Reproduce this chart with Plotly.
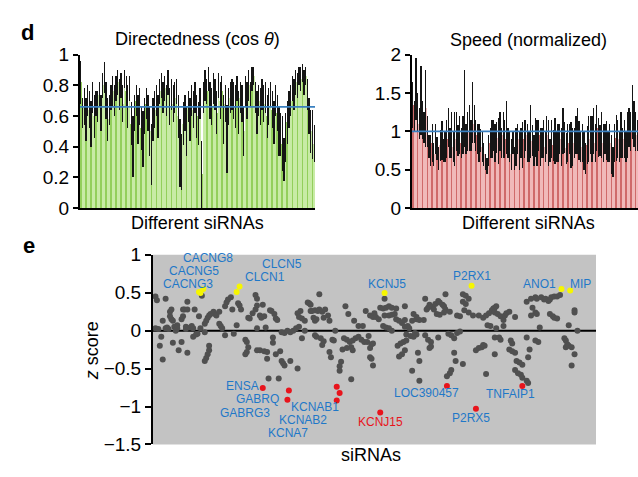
import plotly.graph_objects as go

# ---------------- panel d : per-siRNA bars ----------------
dir_mean = [
    0.82, 0.62, 0.66, 0.58, 0.70, 0.64, 0.55, 0.72, 0.60, 0.68,
    0.66, 0.74, 0.62, 0.80, 0.85, 0.70, 0.58, 0.64, 0.72, 0.76,
    0.70, 0.78, 0.82, 0.74, 0.80, 0.68, 0.84, 0.76, 0.66, 0.78,
    0.55, 0.40, 0.62, 0.70, 0.58, 0.66, 0.52, 0.45, 0.60, 0.68,
    0.62, 0.50, 0.35, 0.58, 0.64, 0.70, 0.60, 0.76, 0.80, 0.72,
    0.78, 0.70, 0.82, 0.66, 0.74, 0.68, 0.72, 0.76, 0.60, 0.36,
    0.30, 0.55, 0.62, 0.50, 0.66, 0.58, 0.70, 0.64, 0.72, 0.60,
    0.55, 0.68, 0.22, 0.72, 0.80, 0.76, 0.84, 0.70, 0.66, 0.78,
    0.74, 0.62, 0.80, 0.70, 0.76, 0.58, 0.68, 0.45, 0.66, 0.72,
    0.74, 0.70, 0.66, 0.78, 0.62, 0.72, 0.68, 0.50, 0.76, 0.70,
    0.80, 0.74, 0.84, 0.86, 0.72, 0.62, 0.70, 0.66, 0.74, 0.68,
    0.72, 0.60, 0.66, 0.74, 0.64, 0.56, 0.70, 0.62, 0.50, 0.48,
    0.42, 0.32, 0.46, 0.56, 0.64, 0.70, 0.78, 0.74, 0.82, 0.80,
    0.86, 0.84, 0.88, 0.82, 0.86, 0.74, 0.60, 0.50, 0.48, 0.42,
]
dir_err = [
    0.14, 0.10, 0.12, 0.14, 0.10, 0.12, 0.15, 0.10, 0.14, 0.08,
    0.10, 0.08, 0.12, 0.08, 0.10, 0.12, 0.14, 0.10, 0.08, 0.10,
    0.10, 0.08, 0.08, 0.10, 0.08, 0.12, 0.06, 0.10, 0.14, 0.08,
    0.14, 0.20, 0.12, 0.10, 0.16, 0.12, 0.14, 0.18, 0.12, 0.10,
    0.12, 0.16, 0.20, 0.14, 0.12, 0.10, 0.14, 0.08, 0.08, 0.10,
    0.08, 0.10, 0.08, 0.12, 0.10, 0.12, 0.10, 0.08, 0.14, 0.22,
    0.18, 0.14, 0.12, 0.16, 0.10, 0.14, 0.10, 0.12, 0.10, 0.14,
    0.14, 0.10, 0.22, 0.10, 0.10, 0.08, 0.08, 0.12, 0.12, 0.10,
    0.10, 0.14, 0.08, 0.12, 0.10, 0.16, 0.12, 0.22, 0.12, 0.10,
    0.10, 0.12, 0.14, 0.08, 0.14, 0.10, 0.12, 0.16, 0.10, 0.12,
    0.10, 0.08, 0.08, 0.06, 0.10, 0.14, 0.10, 0.12, 0.10, 0.12,
    0.10, 0.14, 0.12, 0.08, 0.12, 0.14, 0.10, 0.12, 0.16, 0.14,
    0.18, 0.14, 0.16, 0.14, 0.12, 0.10, 0.08, 0.10, 0.08, 0.08,
    0.06, 0.08, 0.06, 0.08, 0.06, 0.10, 0.12, 0.14, 0.16, 0.12,
]
speed_mean = [
    1.35, 1.20, 1.55, 1.25, 1.10, 1.40, 1.15, 1.05, 1.30, 1.00,
    0.80, 0.75, 0.85, 0.70, 0.90, 0.78, 0.65, 0.82, 0.88, 0.75,
    0.80, 0.90, 1.05, 0.85, 0.95, 0.80, 0.90, 1.00, 0.88, 0.95,
    0.85, 0.95, 1.30, 0.90, 1.00, 1.05, 0.95, 1.25, 1.10, 0.95,
    0.90, 0.85, 0.88, 0.80, 0.70, 0.60, 0.55, 0.75, 0.85, 0.90,
    0.95, 0.85, 0.92, 0.88, 1.00, 0.85, 0.95, 0.90, 1.05, 0.85,
    0.80, 0.70, 0.85, 0.65, 0.80, 0.90, 0.75, 0.85, 0.82, 0.90,
    0.95, 0.85, 0.80, 1.00, 0.88, 0.75, 0.92, 0.85, 0.95, 0.80,
    0.85, 0.90, 0.80, 0.95, 0.85, 0.75, 0.90, 0.82, 0.88, 0.80,
    0.85, 0.90, 0.80, 1.00, 0.92, 0.78, 0.85, 0.90, 0.82, 0.80,
    0.85, 0.95, 1.00, 0.88, 0.80, 0.85, 0.75, 0.65, 0.82, 0.90,
    0.95, 0.90, 1.00, 0.85, 1.05, 0.92, 0.88, 0.95, 0.85, 0.90,
    0.88, 0.80, 0.85, 0.70, 0.60, 0.85, 0.92, 0.90, 0.80, 0.95,
    0.85, 0.90, 0.80, 0.95, 1.05, 1.00, 1.25, 1.10, 1.00, 0.95,
]
speed_err = [
    0.30, 0.20, 0.40, 0.25, 0.20, 0.45, 0.25, 0.20, 0.50, 0.20,
    0.15, 0.20, 0.25, 0.15, 0.20, 0.15, 0.15, 0.20, 0.25, 0.15,
    0.20, 0.25, 0.25, 0.20, 0.30, 0.20, 0.35, 0.25, 0.20, 0.25,
    0.20, 0.25, 0.50, 0.20, 0.25, 0.30, 0.20, 0.40, 0.25, 0.20,
    0.20, 0.25, 0.15, 0.20, 0.15, 0.10, 0.10, 0.20, 0.20, 0.25,
    0.20, 0.25, 0.20, 0.30, 0.25, 0.20, 0.30, 0.25, 0.35, 0.20,
    0.20, 0.20, 0.15, 0.15, 0.25, 0.20, 0.25, 0.20, 0.30, 0.25,
    0.20, 0.25, 0.20, 0.35, 0.20, 0.20, 0.25, 0.30, 0.20, 0.25,
    0.20, 0.25, 0.20, 0.25, 0.30, 0.15, 0.25, 0.20, 0.30, 0.20,
    0.25, 0.20, 0.25, 0.30, 0.20, 0.20, 0.25, 0.20, 0.30, 0.25,
    0.20, 0.25, 0.30, 0.25, 0.20, 0.25, 0.25, 0.20, 0.25, 0.30,
    0.25, 0.30, 0.30, 0.25, 0.30, 0.25, 0.20, 0.30, 0.25, 0.20,
    0.25, 0.20, 0.25, 0.25, 0.20, 0.25, 0.30, 0.25, 0.20, 0.30,
    0.20, 0.25, 0.20, 0.30, 0.25, 0.25, 0.35, 0.30, 0.25, 0.20,
]
dir_reference = 0.66
speed_reference = 1.0
bar_index = list(range(len(dir_mean)))

# ---------------- panel e : z scores ----------------
idx_a = [0, 1, 0, 2, 3, 5, 4, 5, 7, 7,
         8, 9, 10, 10, 11, 11, 12, 12, 13, 14,
         15, 15, 16, 18, 18, 19, 19, 20, 21, 21,
         22, 22, 22, 24, 25, 26, 26, 27, 28, 29,
         30, 31, 32, 34, 35, 36, 37, 38, 34, 37,
         37, 36, 35, 34, 40, 41, 42, 44, 44, 45,
         46, 48, 48, 49, 50, 52, 53, 54, 56, 57,
         58, 59, 62, 63, 64, 63, 62, 64, 65, 67,
         69, 70, 70, 69, 70, 72, 70, 72, 73]
z_a = [0.45, 0.40, 0.03, 0.02, -0.20, -0.38, -0.08, 0.13, 0.42, 0.03,
       0.04, 0.02, 0.19, 0.25, 0.28, 0.15, 0.13, -0.16, 0.05, 0.00,
       0.07, 0.03, -0.26, -0.15, 0.15, 0.19, 0.28, 0.28, 0.02, 0.05,
       0.38, 0.28, -0.29, 0.04, 0.06, 0.03, -0.08, 0.28, -0.05, -0.04,
       0.19, 0.03, 0.46, 0.09, 0.13, 0.17, 0.20, 0.22, -0.02, -0.20,
       -0.26, -0.31, -0.36, -0.40, 0.25, 0.22, 0.20, 0.25, 0.09, 0.06,
       0.03, -0.06, 0.32, 0.37, 0.41, 0.44, 0.28, -0.04, 0.07, 0.36,
       0.33, 0.28, -0.12, -0.15, -0.22, -0.28, -0.31, 0.17, 0.16, 0.23,
       0.28, 0.33, 0.42, 0.47, -0.26, -0.26, 0.03, 0.20, 0.17]

idx_b = [74, 75, 76, 79, 80, 82, 83, 84, 81, 81,
         75, 77, 77, 78, 85, 86, 83, 87, 88, 89,
         93, 98, 87, 89, 91, 93, 95, 97, 99, 98,
         100, 99, 101, 103, 101, 103, 105, 106, 107, 107,
         108, 110, 112, 113, 109, 110, 111, 113, 115, 117,
         119, 116, 110, 111, 114, 116, 115, 120, 122, 123,
         120, 121, 124, 128, 127, 127, 131, 133, 137, 140,
         143, 130, 132, 134, 136, 138, 140, 142, 144, 146,
         149, 150, 147, 129, 132, 135, 136, 135, 148, 150,
         145, 148, 150]
z_b = [0.34, 0.19, 0.04, 0.27, 0.26, 0.22, 0.16, 0.14, -0.09, -0.16,
       -0.27, -0.28, -0.37, -0.63, -0.63, -0.27, -0.31, -0.40, -0.43, -0.46,
       -0.40, -0.50, -0.02, -0.03, 0.00, -0.02, 0.00, 0.03, 0.05, 0.23,
       0.26, 0.18, 0.16, 0.13, -0.10, 0.00, 0.37, 0.36, 0.34, 0.26,
       0.26, 0.27, 0.26, 0.28, 0.17, 0.13, 0.15, 0.48, 0.25, 0.28,
       0.20, 0.17, -0.06, -0.08, -0.10, -0.14, -0.19, 0.13, -0.12, -0.13,
       -0.28, -0.35, 0.00, -0.41, -0.47, -0.53, 0.32, 0.22, 0.13, 0.06,
       0.06, -0.10, -0.12, -0.15, -0.13, -0.10, -0.08, -0.12, -0.15, -0.15,
       -0.18, -0.17, -0.07, -0.25, -0.23, -0.22, -0.26, -0.64, -0.35, -0.46,
       0.26, 0.20, 0.18]

idx_c = [158, 151, 152, 154, 155, 157, 159, 161, 163, 166,
         158, 161, 163, 165, 157, 159, 161, 163, 166, 168,
         170, 172, 172, 174, 175, 177, 180, 182, 185, 172,
         178, 180, 186, 189, 188, 187, 191, 192, 193, 195,
         196, 198, 199, 200, 199, 196, 194, 200, 203, 208,
         210, 213, 216, 219, 212, 214, 216, 212, 214, 223,
         226, 148, 149, 167, 169, 171, 173, 172, 170, 168,
         173, 176, 178, 180, 179, 181, 182, 177, 182, 186,
         188, 190, 190, 189, 195, 202, 204, 206, 208, 210,
         206, 207, 204, 203, 201, 212, 221, 223, 225, 227]
z_c = [0.42, 0.23, 0.18, 0.15, 0.30, 0.29, 0.30, 0.32, 0.30, 0.29,
       0.20, 0.20, 0.21, 0.22, 0.06, 0.04, 0.03, 0.00, 0.15, 0.13,
       0.10, 0.14, 0.05, 0.06, 0.03, 0.13, 0.15, 0.14, 0.14, 0.32,
       0.22, 0.18, 0.42, 0.34, 0.30, 0.28, 0.31, 0.28, 0.35, 0.39,
       0.37, 0.34, 0.32, 0.28, 0.24, 0.21, 0.22, 0.48, 0.25, 0.20,
       0.19, 0.27, 0.24, 0.20, 0.48, 0.46, 0.42, 0.38, 0.35, 0.20,
       0.17, -0.23, -0.37, -0.20, -0.17, -0.15, -0.13, -0.26, -0.31, -0.34,
       -0.05, -0.07, -0.08, -0.05, -0.03, -0.29, -0.40, -0.53, -0.66, -0.06,
       -0.12, -0.15, -0.21, -0.23, -0.09, -0.04, -0.06, -0.10, -0.03, -0.01,
       -0.29, -0.40, -0.52, -0.56, -0.60, -0.44, -0.26, -0.23, -0.22, -0.20]

idx_d = [228, 230, 232, 233, 234, 235, 234, 229, 231, 236,
         238, 240, 241, 242, 244, 235, 240, 234, 237, 238,
         245, 246, 248, 234, 244, 246, 248, 249, 251, 253,
         228, 226, 256, 258, 257, 256, 260, 262, 263, 259,
         259, 262, 263, 266, 268, 269, 271, 272, 273, 275,
         277, 279, 265, 262, 264, 272, 274, 275, 277, 248,
         250, 252, 253, 256, 257, 282, 283, 284, 283, 285,
         287, 285, 289, 289, 291, 289, 287]
z_d = [0.20, 0.23, 0.27, 0.29, 0.30, 0.32, 0.24, 0.07, 0.06, 0.22,
       0.19, 0.14, 0.20, 0.23, 0.25, 0.03, 0.06, -0.09, -0.09, -0.12,
       -0.13, -0.17, 0.18, -0.31, -0.25, -0.27, -0.29, -0.40, -0.42, -0.45,
       -0.57, -0.19, -0.09, -0.25, -0.35, 0.38, 0.30, 0.24, 0.22, 0.20,
       0.42, 0.44, 0.42, 0.44, 0.41, 0.42, 0.39, 0.41, 0.44, 0.45,
       0.45, 0.47, 0.04, -0.13, -0.15, 0.22, 0.19, 0.17, 0.16, -0.52,
       -0.56, -0.58, -0.62, -0.66, -0.69, -0.10, -0.13, -0.18, -0.22, -0.20,
       -0.22, 0.07, 0.27, 0.24, 0.00, -0.31, -0.46]

up_genes = ["CACNG3", "CACNG5", "CACNG8", "CLCN1", "CLCN5", "KCNJ5", "P2RX1", "ANO1", "MIP"]
up_idx = [30, 31, 33, 56, 58, 158, 218, 280, 286]
up_z = [0.51, 0.495, 0.55, 0.51, 0.58, 0.495, 0.59, 0.55, 0.53]

down_genes = ["ENSA", "GABRQ", "GABRG3", "KCNAB1", "KCNAB2", "KCNA7", "KCNJ15", "LOC390457", "P2RX5", "TNFAIP1"]
down_idx = [74, 92, 91, 125, 127, 125, 155, 201, 221, 253]
down_z = [-0.755, -0.79, -0.91, -0.74, -0.82, -0.92, -1.08, -0.73, -1.03, -0.73]

# label placement (layout only, in axis units)
label_pos = {
    "CACNG8": (35.9, 0.96), "CACNG5": (26.9, 0.785), "CACNG3": (22.4, 0.61),
    "CLCN5": (87.6, 0.875), "CLCN1": (75.5, 0.70), "KCNJ5": (159.5, 0.62),
    "P2RX1": (218.3, 0.72), "ANO1": (264.8, 0.62), "MIP": (293.0, 0.62),
    "ENSA": (59.7, -0.726), "GABRQ": (70.7, -0.90), "GABRG3": (61.7, -1.08),
    "KCNAB1": (110.0, -1.01), "KCNAB2": (101.4, -1.176), "KCNA7": (91.4, -1.345),
    "KCNJ15": (155.5, -1.21), "LOC390457": (187.2, -0.82), "P2RX5": (217.6, -1.155),
    "TNFAIP1": (244.5, -0.84),
}
red_labels = {"KCNJ15"}

FONT = "Arial, Liberation Sans, Helvetica, sans-serif"
W, H = 638, 477

def px(x):
    return x / W

def py(y):
    return 1 - y / H

green_cols = ["#93cf5c" if i % 3 == 0 else "#c8eba6" for i in bar_index]
red_cols = ["#cf6a6a" if i % 3 == 0 else "#f0b9b9" for i in bar_index]

fig = go.Figure()
fig.add_trace(go.Bar(
    x=bar_index, y=dir_mean, marker=dict(color=green_cols, line=dict(width=0)),
    error_y=dict(type="data", array=dir_err, color="#151515", thickness=1.3, width=0),
    xaxis="x", yaxis="y", showlegend=False))
fig.add_trace(go.Bar(
    x=bar_index, y=speed_mean, marker=dict(color=red_cols, line=dict(width=0)),
    error_y=dict(type="data", array=speed_err, color="#151515", thickness=1.3, width=0),
    xaxis="x2", yaxis="y2", showlegend=False))

gray_idx = idx_a + idx_b + idx_c + idx_d
gray_z = z_a + z_b + z_c + z_d
fig.add_trace(go.Scatter(
    x=gray_idx, y=gray_z, mode="markers",
    marker=dict(color="#505050", size=6, line=dict(width=0)),
    xaxis="x3", yaxis="y3", showlegend=False))
fig.add_trace(go.Scatter(
    x=up_idx, y=up_z, mode="markers", text=up_genes,
    marker=dict(color="#f6f600", size=6, line=dict(width=0)),
    xaxis="x3", yaxis="y3", showlegend=False))
fig.add_trace(go.Scatter(
    x=down_idx, y=down_z, mode="markers", text=down_genes,
    marker=dict(color="#e8141c", size=6, line=dict(width=0)),
    xaxis="x3", yaxis="y3", showlegend=False))

shapes = [
    dict(type="rect", xref="x3 domain", yref="y3 domain", x0=0, x1=1, y0=0, y1=1,
         fillcolor="#c3c3c3", line=dict(width=0), layer="below"),
    dict(type="line", xref="x3 domain", yref="y3", x0=0, x1=1, y0=0, y1=0,
         line=dict(color="black", width=2), layer="below"),
    dict(type="line", xref="x domain", yref="y", x0=0, x1=1, y0=dir_reference, y1=dir_reference,
         line=dict(color="#3a80c0", width=1.6)),
    dict(type="line", xref="x2 domain", yref="y2", x0=0, x1=1, y0=speed_reference, y1=speed_reference,
         line=dict(color="#3a80c0", width=1.6)),
]

ann = []
for name in up_genes + down_genes:
    lx, ly = label_pos[name]
    ann.append(dict(x=lx, y=ly, xref="x3", yref="y3", text=name, showarrow=False,
                    xanchor="center", yanchor="middle", borderpad=0,
                    font=dict(family=FONT, size=12,
                              color="#e8141c" if name in red_labels else "#1f78c8")))

ann += [
    dict(x=px(27), y=py(24), xref="paper", yref="paper", text="<b>d</b>", showarrow=False,
         xanchor="center", yanchor="middle", font=dict(family=FONT, size=22, color="black")),
    dict(x=px(29), y=py(246), xref="paper", yref="paper", text="<b>e</b>", showarrow=False,
         xanchor="center", yanchor="middle", font=dict(family=FONT, size=22, color="black")),
    dict(x=px(197), y=py(30), xref="paper", yref="paper", text="Directedness (cos <i>θ</i>)",
         showarrow=False, xanchor="center", yanchor="middle", font=dict(family=FONT, size=18, color="black")),
    dict(x=px(528), y=py(31), xref="paper", yref="paper", text="Speed (normalized)",
         showarrow=False, xanchor="center", yanchor="middle", font=dict(family=FONT, size=18, color="black")),
    dict(x=px(197), y=py(223), xref="paper", yref="paper", text="Different siRNAs",
         showarrow=False, xanchor="center", yanchor="middle", font=dict(family=FONT, size=18, color="black")),
    dict(x=px(528), y=py(223), xref="paper", yref="paper", text="Different siRNAs",
         showarrow=False, xanchor="center", yanchor="middle", font=dict(family=FONT, size=18, color="black")),
    dict(x=px(371), y=py(466), xref="paper", yref="paper", text="siRNAs",
         showarrow=False, xanchor="center", yanchor="middle", font=dict(family=FONT, size=18, color="black")),
    dict(x=px(92), y=py(357), xref="paper", yref="paper", text="<i>z</i> score", textangle=-90,
         showarrow=False, xanchor="center", yanchor="middle", font=dict(family=FONT, size=18, color="black")),
]

axis_common = dict(showgrid=False, zeroline=False, fixedrange=True)
ytick_font = dict(family=FONT, size=19, color="black")

fig.update_layout(
    width=W, height=H, margin=dict(l=0, r=0, t=0, b=0),
    paper_bgcolor="white", plot_bgcolor="white",
    bargap=0, showlegend=False,
    font=dict(family=FONT, color="black"),
    xaxis=dict(domain=[px(80), px(315)], range=[-0.5, len(bar_index) - 0.5], anchor="y",
               showline=True, linecolor="black", linewidth=2, showticklabels=False, ticks="",
               **axis_common),
    yaxis=dict(domain=[py(207.3), py(46.7)], range=[0, 1], anchor="x",
               tickvals=[0, 0.2, 0.4, 0.6, 0.8, 1], ticktext=["0", "0.2", "0.4", "0.6", "0.8", "1"],
               ticks="outside", ticklen=5, tickwidth=2, tickcolor="black",
               showline=True, linecolor="black", linewidth=2, tickfont=ytick_font, **axis_common),
    xaxis2=dict(domain=[px(412), 1.0], range=[-0.5, len(bar_index) - 0.5], anchor="y2",
                showline=True, linecolor="black", linewidth=2, showticklabels=False, ticks="",
                **axis_common),
    yaxis2=dict(domain=[py(207.3), py(46.7)], range=[0, 2], anchor="x2",
                tickvals=[0, 0.5, 1, 1.5, 2], ticktext=["0", "0.5", "1", "1.5", "2"],
                ticks="outside", ticklen=5, tickwidth=2, tickcolor="black",
                showline=True, linecolor="black", linewidth=2, tickfont=ytick_font, **axis_common),
    xaxis3=dict(domain=[px(153), px(596)], range=[-1.7, 303.8], anchor="y3",
                showline=False, showticklabels=False, ticks="", **axis_common),
    yaxis3=dict(domain=[py(454.5), py(256)], range=[-1.5, 1], anchor="x3",
                tickvals=[-1.5, -1, -0.5, 0, 0.5, 1],
                ticktext=["\u22121.5", "\u22121", "\u22120.5", "0", "0.5", "1"],
                ticks="outside", ticklen=6, tickwidth=2, tickcolor="black",
                showline=True, linecolor="black", linewidth=2, tickfont=ytick_font, **axis_common),
    shapes=shapes,
    annotations=ann,
    hovermode=False,
)

fig.write_html("out.html", config={"displayModeBar": False, "staticPlot": True},
               post_script="document.body.style.margin='0';document.body.style.overflow='hidden';")
